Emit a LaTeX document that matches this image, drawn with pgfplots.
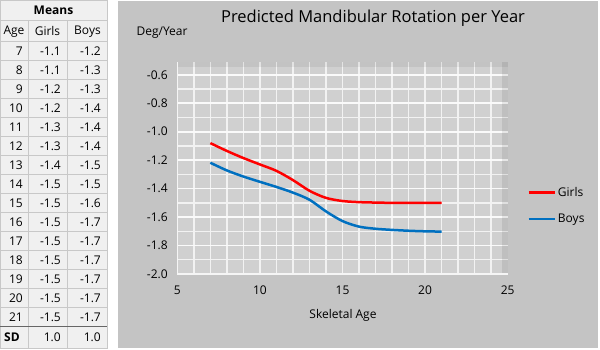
\documentclass[border=0pt]{standalone}
\usepackage{pgfplots}
\pgfplotsset{compat=1.18}
\usepackage{fontspec}
\setmainfont{Open Sans}
\definecolor{panel}{HTML}{C4C4C4}
\definecolor{plotbg}{HTML}{D0D0D0}
\definecolor{gridc}{HTML}{F2F2F2}
\definecolor{gridM}{HTML}{FAFAFA}
\definecolor{cellbg}{HTML}{F0F0F0}
\definecolor{cellbd}{HTML}{C8C8C8}
\definecolor{girlsc}{HTML}{FF0000}
\definecolor{boysc}{HTML}{0070C0}
\begin{document}
\begin{tikzpicture}
\begin{scope}[x=1pt,y=-1pt]
\path[fill=white,use as bounding box] (0,0) rectangle (600,350);
% ---- table ----
\tikzset{cell/.style={fill=cellbg,draw=cellbd,line width=0.8pt}}
\fontsize{12}{14}\selectfont
\draw[cell] (0,0) rectangle (107,20.7);
\node[font=\bfseries] at (53.5,10.5) {Means};
\draw[cell] (0,20.7) rectangle (28,41.7);
\draw[cell] (28,20.7) rectangle (67,41.7);
\draw[cell] (67,20.7) rectangle (107,41.7);
\node at (14,31.5) {Age};
\node at (47.5,31.5) {Girls};
\node at (87.5,31.5) {Boys};
\foreach \a/\g/\b [count=\i] in {7/-1.1/-1.2,8/-1.1/-1.3,9/-1.2/-1.3,10/-1.2/-1.4,11/-1.3/-1.4,12/-1.3/-1.4,13/-1.4/-1.5,14/-1.5/-1.5,15/-1.5/-1.6,16/-1.5/-1.7,17/-1.5/-1.7,18/-1.5/-1.7,19/-1.5/-1.7,20/-1.5/-1.7,21/-1.5/-1.7}{
  \pgfmathsetmacro{\yt}{41.7+(\i-1)*19}
  \pgfmathsetmacro{\yc}{\yt+9.8}
  \draw[cell] (0,\yt) rectangle (28,\yt+19);
  \draw[cell] (28,\yt) rectangle (67,\yt+19);
  \draw[cell] (67,\yt) rectangle (107,\yt+19);
  \node[anchor=east] at (27,\yc) {\a};
  \node[anchor=east] at (65,\yc) {\g};
  \node[anchor=east] at (105,\yc) {\b};
}
\draw[cell] (0,326.7) rectangle (28,348);
\draw[cell] (28,326.7) rectangle (67,348);
\draw[cell] (67,326.7) rectangle (107,348);
\draw[gray!80!black,line width=1pt] (0,326.7) -- (107,326.7);
\node[anchor=west,font=\bfseries] at (0,337.5) {SD};
\node[anchor=east] at (65,337.5) {1.0};
\node[anchor=east] at (105,337.5) {1.0};
% ---- chart panel ----
\fill[panel] (118,1) rectangle (598,348);
\fill[plotbg] (177.3,62) rectangle (507.7,274);
\foreach \k in {1,...,19}{
  \draw[gridc,line width=1.4pt] (177.3+\k*16.52,62) -- (177.3+\k*16.52,274);
}
\foreach \j in {1,3,5,7,9,11,13}{
  \draw[gridc,line width=1.4pt] (177.3,274-\j*14.23) -- (507.7,274-\j*14.23);
}
\foreach \j in {2,4,6,8,10,12,14}{
  \draw[gridM,line width=1.7pt] (177.3,274-\j*14.23) -- (507.7,274-\j*14.23);
}
\fill[black,opacity=0.06] (177.3,62) rectangle (507.7,67);
\fill[black,opacity=0.08] (502,62) rectangle (507.7,274);
\draw[white!92!gray,line width=1.2pt] (177.3,62) -- (177.3,274) -- (507.7,274);
\node[font=\fontsize{16.5}{19}\selectfont] at (373,18) {Predicted Mandibular Rotation per Year};
\node[font=\fontsize{12}{14}\selectfont] at (162,33) {Deg/Year};
\node[font=\fontsize{12}{14}\selectfont] at (343,315) {Skeletal Age};
\end{scope}
\begin{axis}[
  at={(177.3pt,-274pt)}, anchor=south west,
  scale only axis, width=330.4pt, height=212pt,
  xmin=5, xmax=25, ymin=-2, ymax=-0.51,
  axis line style={draw=none},
  xtick={5,10,15,20,25},
  ytick={-2,-1.8,-1.6,-1.4,-1.2,-1,-0.8,-0.6},
  yticklabels={-2.0,-1.8,-1.6,-1.4,-1.2,-1.0,-0.8,-0.6},
  major tick length=0pt,
  ticklabel style={font=\fontsize{12}{14}\selectfont},
  /pgf/number format/assume math mode=true,
  xticklabel style={yshift=-8pt},
  yticklabel style={xshift=-6pt},
  clip=false,
  legend style={at={(1.05,0.322)},anchor=west,draw=none,fill=none,
    font=\fontsize{12}{14}\selectfont,row sep=12pt},
  legend cell align=left,
  legend image code/.code={\draw[#1,line width=2.5pt] (0pt,0pt) -- (26pt,0pt);},
]
\addplot[girlsc,line width=2.5pt,smooth,tension=0.5] coordinates {
(7,-1.08)(8,-1.135)(9,-1.185)(10,-1.23)(11,-1.275)(12,-1.34)(13,-1.415)(14,-1.465)(15,-1.487)(16,-1.495)(17,-1.498)(18,-1.5)(19,-1.5)(20,-1.5)(21,-1.5)};
\addlegendentry{Girls}
\addplot[boysc,line width=2.5pt,smooth,tension=0.5] coordinates {
(7,-1.218)(8,-1.272)(9,-1.315)(10,-1.352)(11,-1.388)(12,-1.428)(13,-1.478)(14,-1.56)(15,-1.628)(16,-1.667)(17,-1.682)(18,-1.69)(19,-1.696)(20,-1.7)(21,-1.702)};
\addlegendentry{Boys}
\end{axis}
\end{tikzpicture}
\end{document}
